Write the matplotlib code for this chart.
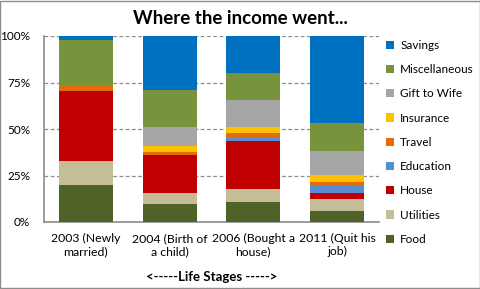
import matplotlib
matplotlib.use("Agg")
import matplotlib.pyplot as plt
from matplotlib.patches import Patch, Rectangle
import numpy as np

plt.rcParams['font.family'] = ['Lato', 'DejaVu Sans']

categories = ["2003 (Newly\nmarried)", "2004 (Birth of\na child)", "2006 (Bought a\nhouse)", "2011 (Quit his\njob)"]
series_names = ["Food", "Utilities", "House", "Education", "Travel", "Insurance", "Gift to Wife", "Miscellaneous", "Savings"]
food = [20.0, 9.8, 10.9, 6.1]
utilities = [12.9, 5.9, 7.0, 6.4]
house = [37.6, 20.4, 25.7, 3.2]
education = [0.0, 0.0, 2.2, 4.3]
travel = [2.8, 1.6, 2.1, 1.6]
insurance = [0.0, 3.3, 3.3, 3.8]
gift = [0.0, 10.2, 14.5, 12.9]
misc = [24.6, 19.8, 14.4, 15.0]
savings = [2.1, 29.0, 19.9, 46.7]
colors = ["#4F6228", "#C4BD97", "#C00000", "#558ED5", "#E36C09", "#FFC000", "#A6A6A6", "#77933C", "#0070C0"]

series = [food, utilities, house, education, travel, insurance, gift, misc, savings]

fig = plt.figure(figsize=(4.81, 2.89), dpi=100)
ax = fig.add_axes([44/481, 1-222/289, (379-44)/481, (222-36)/289])

x = np.arange(len(categories))
data = np.array(series, dtype=float)
totals = data.sum(axis=0)
pct = data / totals * 100
bottom = np.zeros(len(categories))
for vals, c, name in zip(pct, colors, series_names):
    ax.bar(x, vals, bottom=bottom, width=0.645, color=c, label=name, zorder=3)
    bottom += vals

ax.set_xlim(-0.5, len(categories) - 0.5)
ax.set_ylim(0, 100)
ax.set_yticks([0, 25, 50, 75, 100])
ax.set_yticklabels(["0%", "25%", "50%", "75%", "100%"], fontsize=8.5)
ax.set_xticks(x)
ax.set_xticklabels(categories, fontsize=8.8, linespacing=1.25)
ax.tick_params(axis='both', length=0, colors='#000000')
ax.tick_params(axis='x', pad=8)
ax.tick_params(axis='y', pad=10)
ax.yaxis.grid(True, linestyle=(0, (3, 2)), color='#8C8C8C', linewidth=0.9, zorder=0)
for s in ['top', 'right']:
    ax.spines[s].set_visible(False)
for s in ['left', 'bottom']:
    ax.spines[s].set_color('#8C8C8C')
    ax.spines[s].set_linewidth(1.2)

fig.text((44+379)/2/481, 1-277/289, "<-----Life Stages ----->", ha='center', va='center',
         fontsize=9.5, fontweight='bold')

fig.text(0.5, 1-18/289, "Where the income went...", ha='center', va='center',
         fontsize=13.5, fontweight='bold')

handles = [Patch(facecolor=c, edgecolor='none') for c in colors][::-1]
labels = series_names[::-1]
fig.legend(handles, labels, loc='upper left', bbox_to_anchor=(386/481, 1-40/289),
           frameon=False, fontsize=8.5, handlelength=0.7, handleheight=0.7,
           handletextpad=0.5, labelspacing=1.12, borderaxespad=0, borderpad=0)

fig.add_artist(Rectangle((0.001, 0.002), 0.997, 0.995, transform=fig.transFigure,
                         fill=False, edgecolor='#8C8C8C', linewidth=1))

fig.savefig("out.png", dpi=100)
